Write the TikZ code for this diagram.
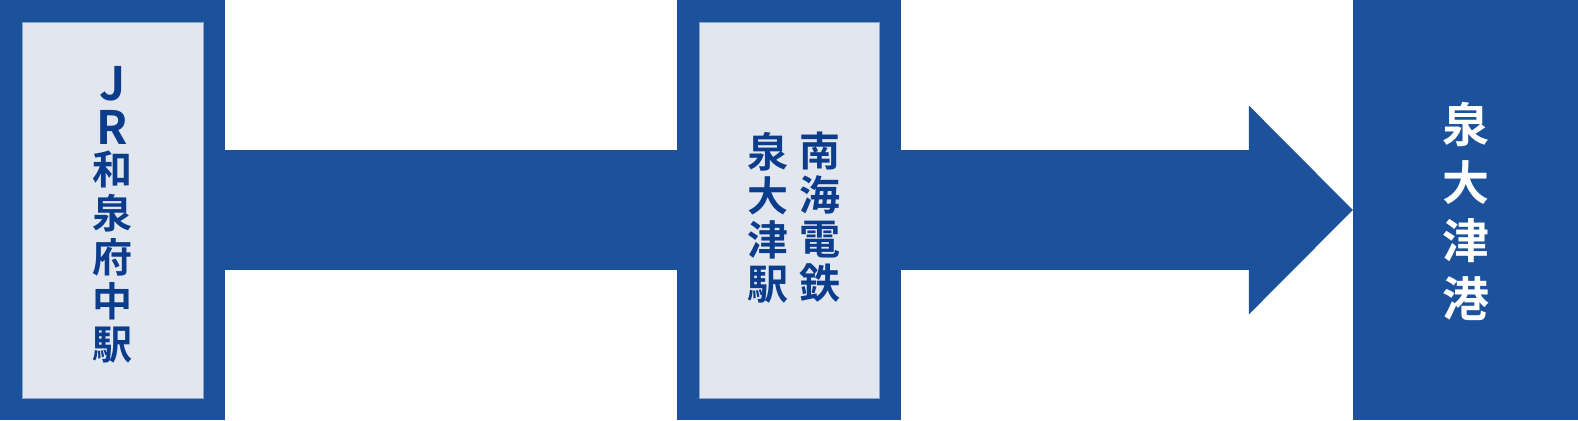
\documentclass[tikz,border=0pt]{standalone}
\usepackage{fontspec}
\newfontfamily\cjk{Noto Sans CJK JP Bold}
\usetikzlibrary{arrows.meta}
\definecolor{routeblue}{HTML}{1B529B}
\definecolor{stationbg}{HTML}{E2E6EE}
\definecolor{stationline}{HTML}{8AA3CB}
\definecolor{stationtext}{HTML}{0C3D8D}
\newcommand{\biglatin}[1]{\raisebox{-3pt}{\fontsize{46}{43.5}\selectfont #1}}
\tikzset{
  outerbox/.style={fill=routeblue,inner sep=0pt,minimum width=#1,minimum height=420pt},
  outerbox/.default=225pt,
  innerbox/.style={fill=stationbg,draw=stationline,line width=0.8pt,inner sep=0pt,
    minimum width=#1,minimum height=376pt},
  innerbox/.default=181pt,
  vtext/.style={align=center,inner sep=0pt,text=stationtext,
    font=\cjk\fontsize{40}{43.75}\selectfont},
}
\begin{document}
\begin{tikzpicture}[x=1pt,y=1pt]
    \useasboundingbox (0,0) rectangle (1578,420);

    % JR
    \node[outerbox] (jr) at (112.5,210) {};
    \node[innerbox] (jrin) at (jr) {};
    \node[vtext] (jrname) at ([yshift=-5pt]jrin.center) {\biglatin{J}\\\biglatin{R}\\和\\泉\\府\\中\\駅};

    % Nankai
    \node[outerbox=224pt] (nk) at (789,210) {};
    \node[innerbox=180pt] (nkin) at (nk) {};
    \node[vtext,font=\cjk\fontsize{41}{44}\selectfont] (nkline) at ([xshift=31pt,yshift=-7.5pt]nkin.center) {南\\海\\電\\鉄};
    \node[vtext,font=\cjk\fontsize{41}{44}\selectfont] (nkname) at ([xshift=-21pt,yshift=-7.5pt]nkin.center) {泉\\大\\津\\駅};

    % Port
    \node[outerbox] (port) at (1465.5,210) {};
    \node[vtext,text=white,font=\cjk\fontsize{47}{58}\selectfont] (portname) at ([yshift=-1pt]port.center) {泉\\大\\津\\港};

    % Connectors
    \draw[routeblue,line width=120pt] (jr.east) -- (nk.west);
    \draw[routeblue,line width=120pt,
      -{Triangle[length=104pt,width=209pt,line width=0pt]}] (nk.east) -- (port.west);

\end{tikzpicture}
\end{document}
